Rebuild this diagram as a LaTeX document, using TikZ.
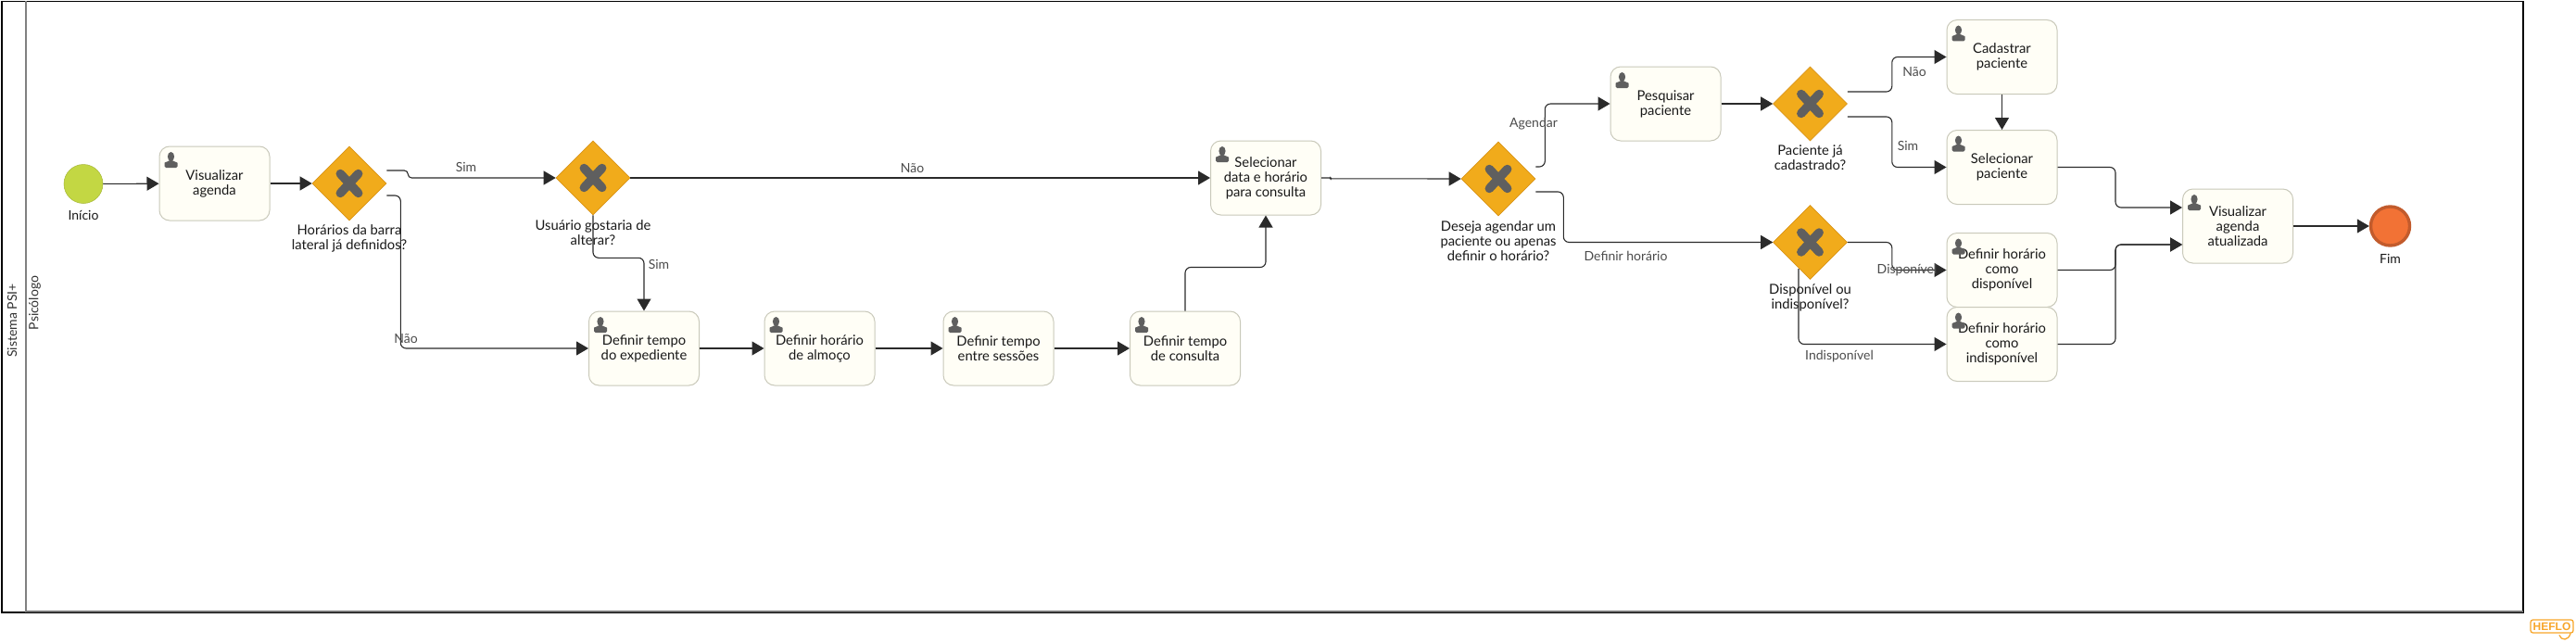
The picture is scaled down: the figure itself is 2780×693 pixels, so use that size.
\documentclass[tikz,border=0pt]{standalone}
\usepackage{fontspec}
\setmainfont{Lato}
\newfontfamily\logofont{Liberation Sans}
\usetikzlibrary{arrows.meta,shapes.geometric}
\definecolor{taskfill}{HTML}{FFFEF6}
\definecolor{taskline}{HTML}{C9C9BA}
\definecolor{gatefill}{HTML}{F1AB1B}
\definecolor{gateline}{HTML}{D9941A}
\definecolor{icongray}{HTML}{5F5F5F}
\definecolor{startfill}{HTML}{C3D743}
\definecolor{endfill}{HTML}{F27235}
\definecolor{endline}{HTML}{C25B2C}
\definecolor{flowcol}{HTML}{2A2A2A}
\definecolor{logocol}{HTML}{F8A62A}
\tikzset{
  every node/.style={font=\fontsize{14}{16}\selectfont},
  taskbox/.style={draw=taskline,line width=1pt,fill=taskfill,rounded corners=11pt,minimum width=119pt,minimum height=80pt,inner sep=0pt,align=center,text=black!90,font=\fontsize{14.8}{16}\selectfont},
  gatebox/.style={diamond,aspect=1,draw=gateline,line width=.6pt,fill=gatefill,minimum width=80pt,minimum height=80pt,inner sep=0pt},
  gatetext/.style={align=center,inner sep=0pt,text=black!90,anchor=north,font=\fontsize{14.8}{16}\selectfont},
  flowlabel/.style={inner sep=0pt,text=black!70},
  flow/.style={draw=flowcol,line width=1.1pt,rounded corners=6pt,-{Triangle[length=13pt,width=15pt]}},
  lanetext/.style={rotate=90,inner sep=0pt,text=black!80}
}
\newcommand{\usericon}[1]{%
  \begin{scope}[shift={(#1.north west)}]
    \fill[icongray] (13,11.5) ellipse (3.6 and 5);
    \fill[icongray,rounded corners=1.5pt] (6,23.5) -- (6,20) .. controls (6,17.5) and (10,17) .. (11,15) -- (15,15) .. controls (16,17) and (20,17.5) .. (20,20) -- (20,23.5) -- cycle;
  \end{scope}}
\newcommand{\gatex}[1]{%
  \draw[icongray,line width=9.5pt,line cap=round] ([shift={(-9.7,-10.5)}]#1.center) -- ([shift={(9.7,10.5)}]#1.center) ([shift={(9.7,-10.5)}]#1.center) -- ([shift={(-9.7,10.5)}]#1.center);}
\begin{document}
\begin{tikzpicture}[x=1pt,y=-1pt]
\useasboundingbox (0,0) rectangle (2780,693);
\fill[white] (0,0) rectangle (2780,693);
% pool
\draw[black,line width=1.1pt] (2,1.5) rectangle (2723,661);
\draw[gray,line width=1.6pt] (28,1.5) -- (28,660.5);
\draw[black!55,line width=1.2pt] (28,660) -- (2723,660);
\node[lanetext] (pool) at (13,346) {Sistema PSI+};
\node[lanetext] (lane) at (37.5,327) {Psicólogo};
% events
\node[circle,draw=startfill!85!black,line width=.5pt,fill=startfill,minimum size=42pt,inner sep=0pt] (start) at (90,198.5) {};
\node[circle,draw=endline,line width=3.4pt,fill=endfill,minimum size=42pt,inner sep=0pt] (fim) at (2579.5,244) {};
\node[flowlabel,text=black!90] (startl) at (90,232) {Início};
\node[flowlabel,text=black!90] (fiml) at (2579.5,279) {Fim};
% tasks
\node[taskbox] (t1) at (231.5,198) {Visualizar\\agenda};
\node[taskbox] (t2) at (695,376) {Definir tempo\\do expediente};
\node[taskbox] (t3) at (884.5,376) {Definir horário\\de almoço};
\node[taskbox] (t4) at (1077.5,376) {Definir tempo\\entre sessões};
\node[taskbox] (t5) at (1279,376) {Definir tempo\\de consulta};
\node[taskbox] (t6) at (1366,192) {Selecionar\\data e horário\\para consulta};
\node[taskbox] (t7) at (1797.5,112) {Pesquisar\\paciente};
\node[taskbox] (t8) at (2160.5,61.5) {Cadastrar\\paciente};
\node[taskbox] (t9) at (2160.5,180.5) {Selecionar\\paciente};
\node[taskbox] (t10) at (2160.5,291.5) {Definir horário\\como\\disponível};
\node[taskbox] (t11) at (2160.5,371.5) {Definir horário\\como\\indisponível};
\node[taskbox] (t12) at (2415,244) {Visualizar\\agenda\\atualizada};
\foreach \t in {t1,t2,t3,t4,t5,t6,t7,t8,t9,t10,t11,t12} {\usericon{\t}}
% gateways
\node[gatebox] (g1) at (377,198) {};
\node[gatebox] (g2) at (640,192) {};
\node[gatebox] (g3) at (1617,193) {};
\node[gatebox] (g4) at (1953.5,112) {};
\node[gatebox] (g5) at (1953.5,261.5) {};
\foreach \g in {g1,g2,g3,g4,g5} {\gatex{\g}}
\node[gatetext] (g1l) at (377,242) {Horários da barra\\lateral já definidos?};
\node[gatetext] (g2l) at (640,237) {Usuário gostaria de\\alterar?};
\node[gatetext] (g3l) at (1617,238) {Deseja agendar um\\paciente ou apenas\\definir o horário?};
\node[gatetext] (g4l) at (1953.5,157) {Paciente já\\cadastrado?};
\node[gatetext] (g5l) at (1953.5,306) {Disponível ou\\indisponível?};
% connectors
\draw[flow] (start) -- (t1);
\draw[flow] (t1) -- (g1);
\draw[flow,rounded corners=4pt] ([yshift=14pt]g1.east) -- ++(23,0) -- ++(0,8) -- (g2.west);
\draw[flow] ([yshift=-13pt]g1.east) -- ++(15,0) |- (t2.west);
\draw[flow] (g2.east) -- (t6.west);
\draw[flow] (g2.south) -- ++(0,46) -| (t2.north);
\draw[flow] (t2) -- (t3);
\draw[flow] (t3) -- (t4);
\draw[flow] (t4) -- (t5);
\draw[flow] (t5.north) |- ++(87,-47) -- (t6.south);
\draw[flow,rounded corners=1pt] (t6.east) -- ++(10,0) -- ++(0,.8) -- (g3.west);
\draw[flow] ([yshift=13pt]g3.east) -- ++(10,0) |- (t7.west);
\draw[flow] ([yshift=-14pt]g3.east) -- ++(30,0) |- (g5.west);
\draw[flow] (t7) -- (g4);
\draw[flow] ([yshift=13pt]g4.east) -- ++(48,0) |- (t8.west);
\draw[flow] ([yshift=-14pt]g4.east) -- ++(48,0) |- (t9.west);
\draw[flow] (t8) -- (t9);
\draw[flow] (g5.east) -- ++(48,0) |- (t10.west);
\draw[flow] ([shift={(-12.5,28.5)}]g5.center) |- (t11.west);
\draw[flow] (t9.east) -- ++(62.5,0) |- ([yshift=20pt]t12.west);
\draw[flow] (t10.east) -- ++(62.5,0) |- ([yshift=-20pt]t12.west);
\draw[flow] (t11.east) -- ++(62.5,0) |- ([yshift=-20pt]t12.west);
\draw[flow] (t12) -- (fim);
% connector labels
\node[flowlabel] (a1) at (503,180) {Sim};
\node[flowlabel] (a2) at (438,366) {Não};
\node[flowlabel] (a3) at (711,285) {Sim};
\node[flowlabel] (a4) at (984.5,182) {Não};
\node[flowlabel] (a5) at (1655,134) {Agendar};
\node[flowlabel] (a6) at (1754.5,276) {Definir horário};
\node[flowlabel] (a7) at (2066,78) {Não};
\node[flowlabel] (a8) at (2059,157) {Sim};
\node[flowlabel] (a9) at (2058,292) {Disponível};
\node[flowlabel] (a10) at (1985,385) {Indisponível};
% logo
\node[draw=logocol,line width=1.3pt,rounded corners=2.5pt,text=logocol,font=\logofont\bfseries\fontsize{12}{12}\selectfont,inner sep=0pt,minimum width=46pt,minimum height=14pt] (logo) at (2754,676) {HEFLO};
\draw[logocol,line width=1.3pt,line cap=round] ([shift={(8,2)}]logo.south) .. controls ([shift={(10,8)}]logo.south) and ([shift={(18,8)}]logo.south) .. ([shift={(20,0)}]logo.south);
\end{tikzpicture}
\end{document}
